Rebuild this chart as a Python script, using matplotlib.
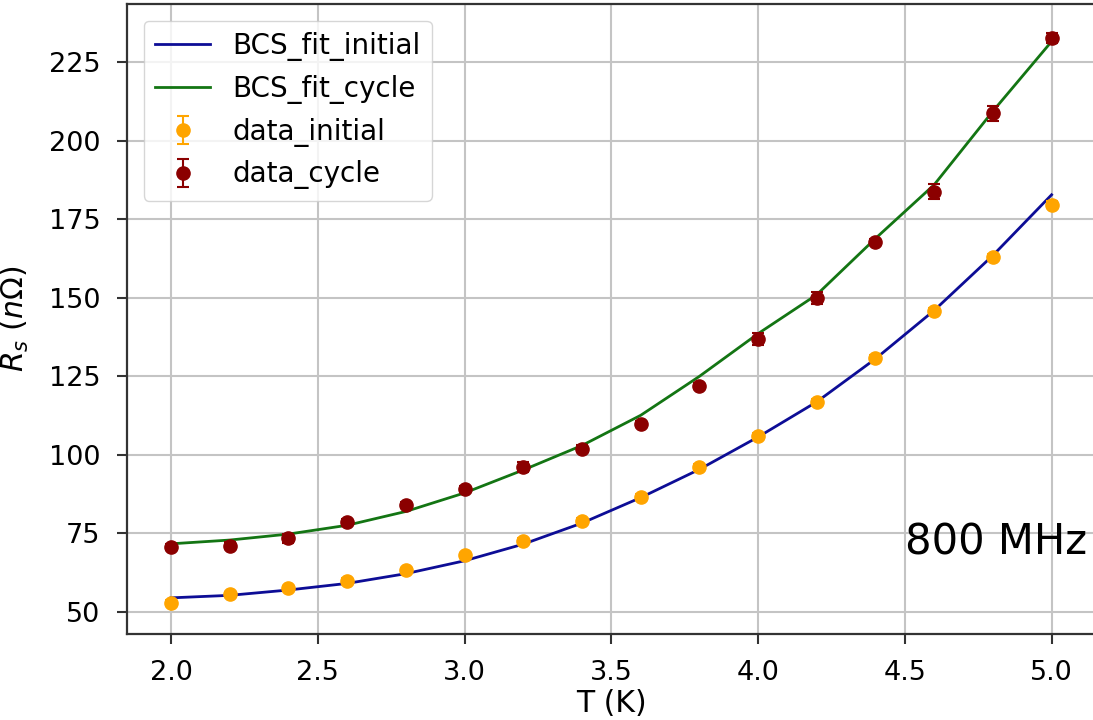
#!/usr/bin/env python3
import matplotlib
matplotlib.use('Agg')
import matplotlib.pyplot as plt

# temperatures (K)
T = [2.0, 2.2, 2.4, 2.6, 2.8, 3.0, 3.2, 3.4, 3.6, 3.8, 4.0, 4.2, 4.4, 4.6, 4.8, 5.0]

# measured surface resistance (nOhm)
rs_initial = [52.9, 55.6, 57.6, 59.9, 63.3, 68.0, 72.6, 78.9, 86.5, 96.0,
              106.1, 116.9, 130.9, 145.8, 162.9, 179.7]
err_initial = [0.8, 0.8, 0.8, 0.8, 0.8, 0.9, 0.9, 0.9, 0.9, 1.0,
               1.0, 1.0, 1.0, 1.0, 1.0, 1.0]
rs_cycle = [70.6, 71.1, 73.5, 78.5, 84.1, 89.1, 96.3, 102.0, 109.9, 121.9,
            136.9, 149.9, 167.8, 183.8, 208.7, 232.8]
err_cycle = [1.0, 1.2, 1.4, 1.0, 1.0, 1.0, 1.6, 1.0, 1.0, 1.0,
             1.8, 2.0, 1.0, 2.4, 2.4, 1.6]

# BCS fit values read at each temperature
fit_initial = [54.5, 55.3, 57.0, 59.1, 62.2, 66.3, 71.6, 78.3, 86.4, 95.4,
               105.7, 116.9, 130.6, 146.0, 163.5, 182.8]
fit_cycle = [71.7, 72.9, 74.8, 77.6, 82.0, 87.9, 95.2, 103.0, 112.6, 125.0,
             138.6, 151.0, 168.9, 186.0, 209.4, 231.6]

fig = plt.figure(figsize=(10.93, 7.2), dpi=100)
ax = fig.add_axes([0.1162, 0.1194, 0.8862, 0.875])

ax.plot(T, fit_initial, color='#0d0d96', lw=2.0, label='BCS_fit_initial')
ax.plot(T, fit_cycle, color='#137513', lw=2.0, label='BCS_fit_cycle')
ax.errorbar(T, rs_initial, yerr=err_initial, fmt='o', color='orange',
            ms=9.5, capsize=4.5, elinewidth=1.5, capthick=1.5, label='data_initial')
ax.errorbar(T, rs_cycle, yerr=err_cycle, fmt='o', color='darkred',
            ms=9.5, capsize=4.5, elinewidth=1.5, capthick=1.5, label='data_cycle')

ax.set_xticks([2.0, 2.5, 3.0, 3.5, 4.0, 4.5, 5.0])
ax.set_yticks([50, 75, 100, 125, 150, 175, 200, 225])
ax.grid(True, color='#c4c4c4', lw=1.5)
ax.set_axisbelow(True)
ax.tick_params(labelsize=19.5, length=7, width=1.5, pad=12, color='#333333')
for sp in ax.spines.values():
    sp.set_color('#333333')
    sp.set_linewidth(1.6)

ax.set_xlabel('T (K)', fontsize=21.5, labelpad=2)
ax.set_ylabel(r'$R_s$ ($n\Omega$)', fontsize=21.5, labelpad=13)

ax.text(0.991, 0.145, '800 MHz', transform=ax.transAxes, ha='right',
        va='center', fontsize=30)

ax.legend(loc='upper left', fontsize=20, framealpha=0.8,
          borderaxespad=0.6, handlelength=2.0, labelspacing=0.5)

fig.savefig('out.png', dpi=100)
